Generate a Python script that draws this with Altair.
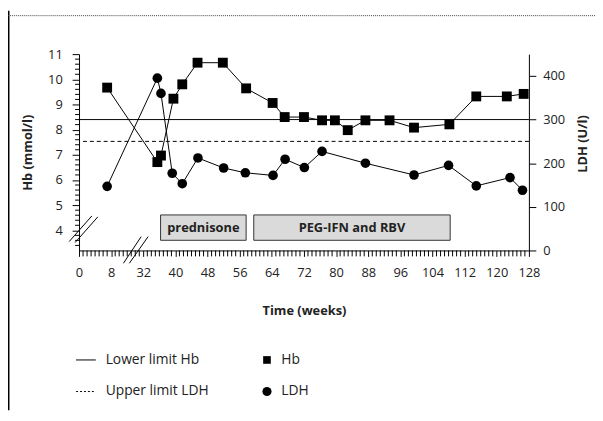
import altair as alt
import pandas as pd

# ---------------- data ----------------
hb_weeks = [7, 35.5, 36.4, 39.5, 41.7, 45.5, 51.8, 57.6, 64.2, 67.2, 72.0, 76.5,
            79.7, 82.9, 87.3, 93.3, 99.4, 108.2, 114.9, 122.5, 126.7]
hb_values = [9.67, 6.71, 6.97, 9.23, 9.80, 10.66, 10.66, 9.64, 9.06, 8.50, 8.50, 8.37,
             8.37, 7.98, 8.37, 8.37, 8.08, 8.21, 9.32, 9.32, 9.42]

ldh_weeks = [7, 35.5, 36.4, 39.2, 41.7, 45.6, 52, 57.4, 64.3, 67.3, 72.1, 76.5,
             87.3, 99.4, 108, 114.9, 123.3, 126.4]
ldh_values = [147, 395, 360, 177, 153, 212, 189, 178, 172, 209, 190, 227,
              200, 173, 195, 148, 167, 138]

hb_lower_limit = [8.4]
ldh_upper_limit = [250]

treat_names = ["prednisone", "PEG-IFN and RBV"]
treat_start = [36.3, 59.5]
treat_end = [57.6, 108.4]
treat_top = [81.4, 81.4]      # LDH units
treat_bottom = [23.3, 23.3]   # LDH units

x_tick_values = [0, 8, 32, 40, 48, 56, 64, 72, 80, 88, 96, 104, 112, 120, 128]
x_minor_values = [1, 2, 3, 4, 5, 6, 7, 11, 14, 17, 20, 23, 26, 29] + \
    [w for w in range(33, 128) if w % 8 != 0]
hb_tick_values = [4, 5, 6, 7, 8, 9, 10, 11]
hb_minor_values = [round(3.2 + 0.2 * k, 1) for k in range(1, 39) if (k - 4) % 5 != 0]
ldh_tick_values = [0, 100, 200, 300, 400]

legend_line_labels = ["Lower limit Hb", "Upper limit LDH"]
legend_mark_labels = ["Hb", "LDH"]

# ---------------- layout ----------------
W, H = 456, 199
FONT = "Open Sans"

x_scale = alt.Scale(domain=[0, 8, 32, 128], range=[0, W * 1 / 14, W * 2 / 14, W],
                    nice=False, zero=False)
x_axis = alt.Axis(values=x_tick_values, title="Time (weeks)", tickSize=6, labelPadding=10,
                  labelFontSize=13, titleFontSize=13, titleFontWeight="bold",
                  titleX=W / 2, titleY=61, titleBaseline="middle", labelFlush=False,
                  grid=False)

hb_scale = alt.Scale(domain=[3.2, 11], nice=False, zero=False)
hb_axis = alt.Axis(orient="left", values=hb_tick_values, tickSize=7, labelPadding=10,
                   labelFontSize=13, title="Hb (mmol/l)", titleFontSize=13,
                   titleFontWeight="bold", titleAngle=270, titleX=-52, titleY=99.5,
                   titleAlign="center", titleBaseline="middle", grid=False)

ldh_scale = alt.Scale(domain=[0, 450], nice=False, zero=False)
ldh_axis = alt.Axis(orient="right", values=ldh_tick_values, tickSize=7, labelPadding=7,
                    labelFontSize=13, title="LDH (U/l)", titleFontSize=13,
                    titleFontWeight="bold", titleAngle=270, titleX=54, titleY=90.5,
                    titleAlign="center", titleBaseline="middle", grid=False)


def xe(field):
    return alt.X(f"{field}:Q", scale=x_scale, axis=x_axis)


def hbe(field):
    return alt.Y(f"{field}:Q", scale=hb_scale, axis=hb_axis)


def ldhe(field):
    return alt.Y(f"{field}:Q", scale=ldh_scale, axis=ldh_axis)


hb_df = pd.DataFrame({"week": hb_weeks, "hb": hb_values})
ldh_df = pd.DataFrame({"week": ldh_weeks, "ldh": ldh_values})
treat_df = pd.DataFrame({"name": treat_names, "start": treat_start, "end": treat_end,
                         "top": treat_top, "bottom": treat_bottom})
treat_df["mid"] = (treat_df["start"] + treat_df["end"]) / 2
treat_df["ymid"] = (treat_df["top"] + treat_df["bottom"]) / 2

# ---------------- Hb group ----------------
hb_minor = alt.Chart(pd.DataFrame({"hb": hb_minor_values})).mark_rule(
    color="black", strokeWidth=1).encode(
    y=hbe("hb"), x=alt.value(-4), x2=alt.value(0))
x_minor = alt.Chart(pd.DataFrame({"week": x_minor_values})).mark_rule(
    color="black", strokeWidth=1).encode(
    x=xe("week"), y=alt.value(H), y2=alt.value(H + 6))
hb_ref = alt.Chart(pd.DataFrame({"hb": hb_lower_limit})).mark_rule(
    color="black", strokeWidth=1).encode(y=hbe("hb"))
hb_line = alt.Chart(hb_df).mark_line(color="black", strokeWidth=1).encode(
    x=xe("week"), y=hbe("hb"), order="week:Q")
hb_pts = alt.Chart(hb_df).mark_point(shape="square", filled=True, color="black",
                                     size=100, opacity=1).encode(
    x=xe("week"), y=hbe("hb"))
hb_group = alt.layer(hb_minor, x_minor, hb_ref, hb_line, hb_pts)

# ---------------- LDH group ----------------
boxes = alt.Chart(treat_df).mark_rect(fill="#dadada", stroke="#333333",
                                      strokeWidth=1).encode(
    x=xe("start"), x2="end:Q", y=ldhe("top"), y2="bottom:Q")
box_text = alt.Chart(treat_df).mark_text(font=FONT, fontSize=13, fontWeight="bold",
                                         color="#222222").encode(
    x=xe("mid"), y=ldhe("ymid"), text="name:N")
ldh_ref = alt.Chart(pd.DataFrame({"ldh": ldh_upper_limit})).mark_rule(
    color="black", strokeWidth=1, strokeDash=[4, 3]).encode(y=ldhe("ldh"))
ldh_line = alt.Chart(ldh_df).mark_line(color="black", strokeWidth=1).encode(
    x=xe("week"), y=ldhe("ldh"), order="week:Q")
ldh_pts = alt.Chart(ldh_df).mark_point(shape="circle", filled=True, color="black",
                                       size=95, opacity=1).encode(
    x=xe("week"), y=ldhe("ldh"))
ldh_group = alt.layer(boxes, box_text, ldh_ref, ldh_line, ldh_pts)

# ---------------- decorations ----------------
one = pd.DataFrame({"k": [0]})
deco = []
# page frame: left vertical line, top dotted line
deco.append(alt.Chart(one).mark_rule(color="black", strokeWidth=1.6).encode(
    x=alt.value(-71.3), y=alt.value(-44), y2=alt.value(H + 162)))
deco.append(alt.Chart(one).mark_rule(color="#444444", strokeWidth=1,
                                     strokeDash=[1, 1]).encode(
    x=alt.value(-72), x2=alt.value(W + 67), y=alt.value(-39)))
# axis break marks
for (x1, y1, x2, y2) in [(-10, 190, 13, 164), (-4, 191, 19, 165),
                         (45, 212, 63, 185), (51, 212, 70, 185)]:
    deco.append(alt.Chart(one).mark_rule(color="black", strokeWidth=1).encode(
        x=alt.value(x1), y=alt.value(y1), x2=alt.value(x2), y2=alt.value(y2)))

# legend
leg_y = [310, 342]
deco.append(alt.Chart(one).mark_rule(color="black", strokeWidth=1).encode(
    x=alt.value(-3), x2=alt.value(17), y=alt.value(leg_y[0])))
deco.append(alt.Chart(one).mark_rule(color="black", strokeWidth=1,
                                     strokeDash=[2, 2]).encode(
    x=alt.value(-3), x2=alt.value(17), y=alt.value(leg_y[1])))
for i, lab in enumerate(legend_line_labels):
    deco.append(alt.Chart(pd.DataFrame({"t": [lab]})).mark_text(
        font=FONT, fontSize=14, align="left", baseline="middle", color="#222222").encode(
        x=alt.value(27), y=alt.value(leg_y[i]), text="t:N"))
deco.append(alt.Chart(one).mark_point(shape="square", filled=True, color="black",
                                      size=60, opacity=1).encode(
    x=alt.value(190.5), y=alt.value(leg_y[0])))
deco.append(alt.Chart(one).mark_point(shape="circle", filled=True, color="black",
                                      size=85, opacity=1).encode(
    x=alt.value(190.5), y=alt.value(leg_y[1])))
for i, lab in enumerate(legend_mark_labels):
    deco.append(alt.Chart(pd.DataFrame({"t": [lab]})).mark_text(
        font=FONT, fontSize=14, align="left", baseline="middle", color="#222222").encode(
        x=alt.value(205), y=alt.value(leg_y[i]), text="t:N"))

chart = alt.layer(hb_group, ldh_group, *deco).resolve_scale(
    y="independent"
).properties(
    width=W, height=H,
    autosize=alt.AutoSizeParams(type="none"),
    padding={"left": 72, "top": 44, "right": 67, "bottom": 162},
    background="white",
).configure_view(stroke=None).configure_axis(
    labelFont=FONT, titleFont=FONT, labelColor="#222222", titleColor="#222222",
    domainColor="black", tickColor="black", domainWidth=1, tickWidth=1,
)

chart.save("out.html", embed_options={"renderer": "svg", "actions": False})
